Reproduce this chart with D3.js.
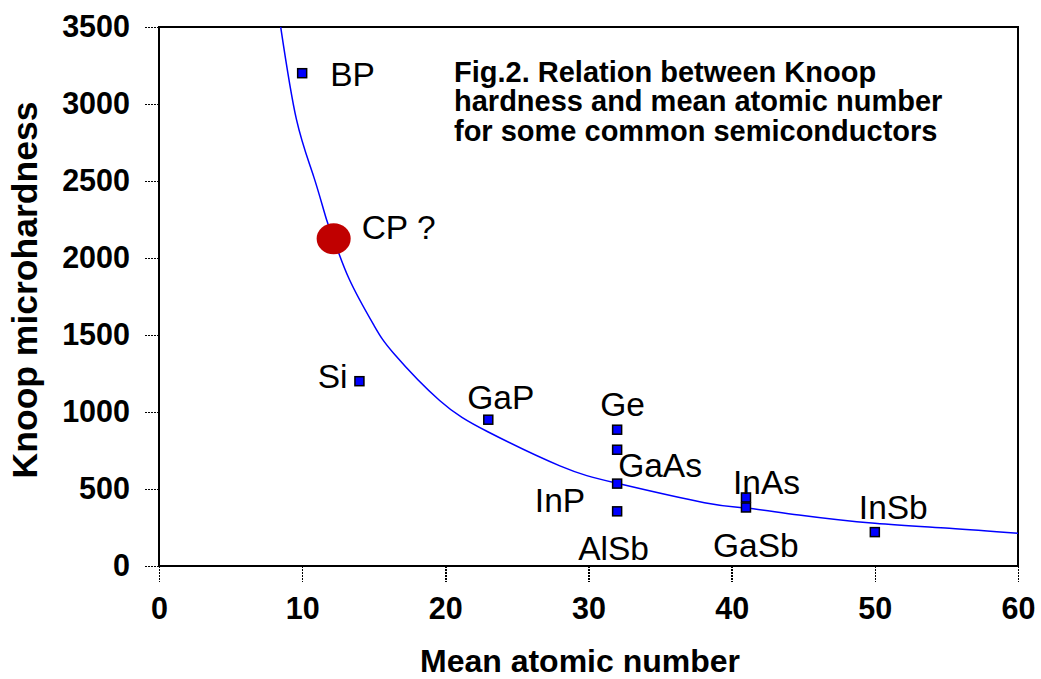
<!DOCTYPE html>
<html>
<head>
<meta charset="utf-8">
<script src="https://cdn.jsdelivr.net/npm/d3@7"></script>
<style>
  body { margin: 0; background: #fff; }
  svg { display: block; font-family: "Liberation Sans", Arial, sans-serif; }
  .axis text { font-weight: bold; font-size: 30.5px; fill: #000; }
  .axis .tick line { stroke: #000; stroke-width: 1.5; stroke-dasharray: 2,1; shape-rendering: crispEdges; }
  .axis .domain { display: none; }
  .lbl { font-size: 33.5px; fill: #000; }
  .title { font-size: 29px; font-weight: bold; fill: #000; }
</style>
</head>
<body>
<script>
// semiconductor points (mean atomic number vs Knoop hardness)
var compounds = ["BP", "Si", "GaP", "Ge", "GaAs", "InP", "AlSb", "InAs", "GaSb", "InSb"];
var meanZ = [10, 14, 23, 32, 32, 32, 32, 41, 41, 50];
var knoop = [3200, 1200, 950, 885, 755, 535, 355, 445, 380, 220];

// predicted point
var cpName = "CP ?";
var cpZ = 12.2;
var cpKnoop = 2125;

// trend curve
var curveZ = [8.5, 9.6, 10.8, 11.7, 12.2, 13.3, 15, 16.4, 19.6, 23, 28, 32, 38.1, 41, 44.7, 50, 55.2, 60];
var curveKnoop = [3500, 2900, 2530, 2250, 2125, 1860, 1565, 1380, 1075, 870, 650, 537, 411, 377, 331, 277, 245, 212];

var xTicks = [0, 10, 20, 30, 40, 50, 60];
var yTicks = [0, 500, 1000, 1500, 2000, 2500, 3000, 3500];

var titleLines = ["Fig.2. Relation between Knoop",
                  "hardness and mean atomic number",
                  "for some common semiconductors"];

// label offsets from the marker [dx, dy, anchor]
var labelPos = [[28, 13, "start"], [-12, 7, "end"], [-21, -11, "start"], [-17, -14, "start"],
                [1, 27, "start"], [-32, 28, "end"], [-39, 49, "start"], [-13, -3.5, "start"],
                [-33, 50, "start"], [-16, -13, "start"]];

var W = 1041, H = 679;
var plotL = 159, plotR = 1018, plotT = 27, plotB = 566;

var svg = d3.select("body").append("svg")
  .attr("width", W)
  .attr("height", H);

var x = d3.scaleLinear().domain([0, 60]).range([plotL, plotR]);
var y = d3.scaleLinear().domain([0, 3500]).range([plotB, plotT]);

// axes
svg.append("g")
  .attr("class", "axis")
  .attr("transform", "translate(" + plotL + ",0)")
  .call(d3.axisLeft(y).tickValues(yTicks).tickSize(15).tickPadding(14).tickFormat(d3.format("d")));

svg.append("g")
  .attr("class", "axis")
  .attr("transform", "translate(0," + plotB + ")")
  .call(d3.axisBottom(x).tickValues(xTicks).tickSize(16).tickPadding(15).tickFormat(d3.format("d")));

// frame
svg.append("rect")
  .attr("x", plotL).attr("y", plotT)
  .attr("width", plotR - plotL).attr("height", plotB - plotT)
  .attr("fill", "none")
  .attr("stroke", "#000")
  .attr("stroke-width", 2)
  .style("shape-rendering", "crispEdges");

// axis titles
svg.append("text")
  .attr("x", 580)
  .attr("y", 672)
  .attr("text-anchor", "middle")
  .style("font-size", "32px")
  .style("font-weight", "bold")
  .text("Mean atomic number");

svg.append("text")
  .attr("transform", "translate(37,290) rotate(-90)")
  .attr("text-anchor", "middle")
  .style("font-size", "35.5px")
  .style("font-weight", "bold")
  .text("Knoop microhardness");

// curve
var line = d3.line()
  .x(function(d, i) { return x(curveZ[i]); })
  .y(function(d) { return y(d); })
  .curve(d3.curveNatural);

svg.append("path")
  .datum(curveKnoop)
  .attr("d", line)
  .attr("fill", "none")
  .attr("stroke", "#0000ff")
  .attr("stroke-width", 1.5);

// predicted CP
svg.append("ellipse")
  .attr("cx", x(cpZ))
  .attr("cy", y(cpKnoop))
  .attr("rx", 17)
  .attr("ry", 15.5)
  .attr("fill", "#c00000");

svg.append("text")
  .attr("class", "lbl")
  .attr("x", x(cpZ) + 28)
  .attr("y", y(cpKnoop))
  .text(cpName);

// markers
svg.selectAll(".pt")
  .data(knoop)
  .enter().append("rect")
  .attr("class", "pt")
  .attr("x", function(d, i) { return x(meanZ[i]) - 4.5; })
  .attr("y", function(d) { return y(d) - 4.5; })
  .attr("width", 9)
  .attr("height", 9)
  .attr("fill", "#0000ff")
  .attr("stroke", "#000")
  .attr("stroke-width", 1.5);

svg.selectAll(".lbl2")
  .data(compounds)
  .enter().append("text")
  .attr("class", "lbl")
  .attr("x", function(d, i) { return x(meanZ[i]) + labelPos[i][0]; })
  .attr("y", function(d, i) { return y(knoop[i]) + labelPos[i][1]; })
  .attr("text-anchor", function(d, i) { return labelPos[i][2]; })
  .text(function(d) { return d; });

// title
svg.append("g").selectAll("text")
  .data(titleLines)
  .enter().append("text")
  .attr("class", "title")
  .attr("x", 454)
  .attr("y", function(d, i) { return 81.5 + i * 29.6; })
  .text(function(d) { return d; });
</script>
</body>
</html>
